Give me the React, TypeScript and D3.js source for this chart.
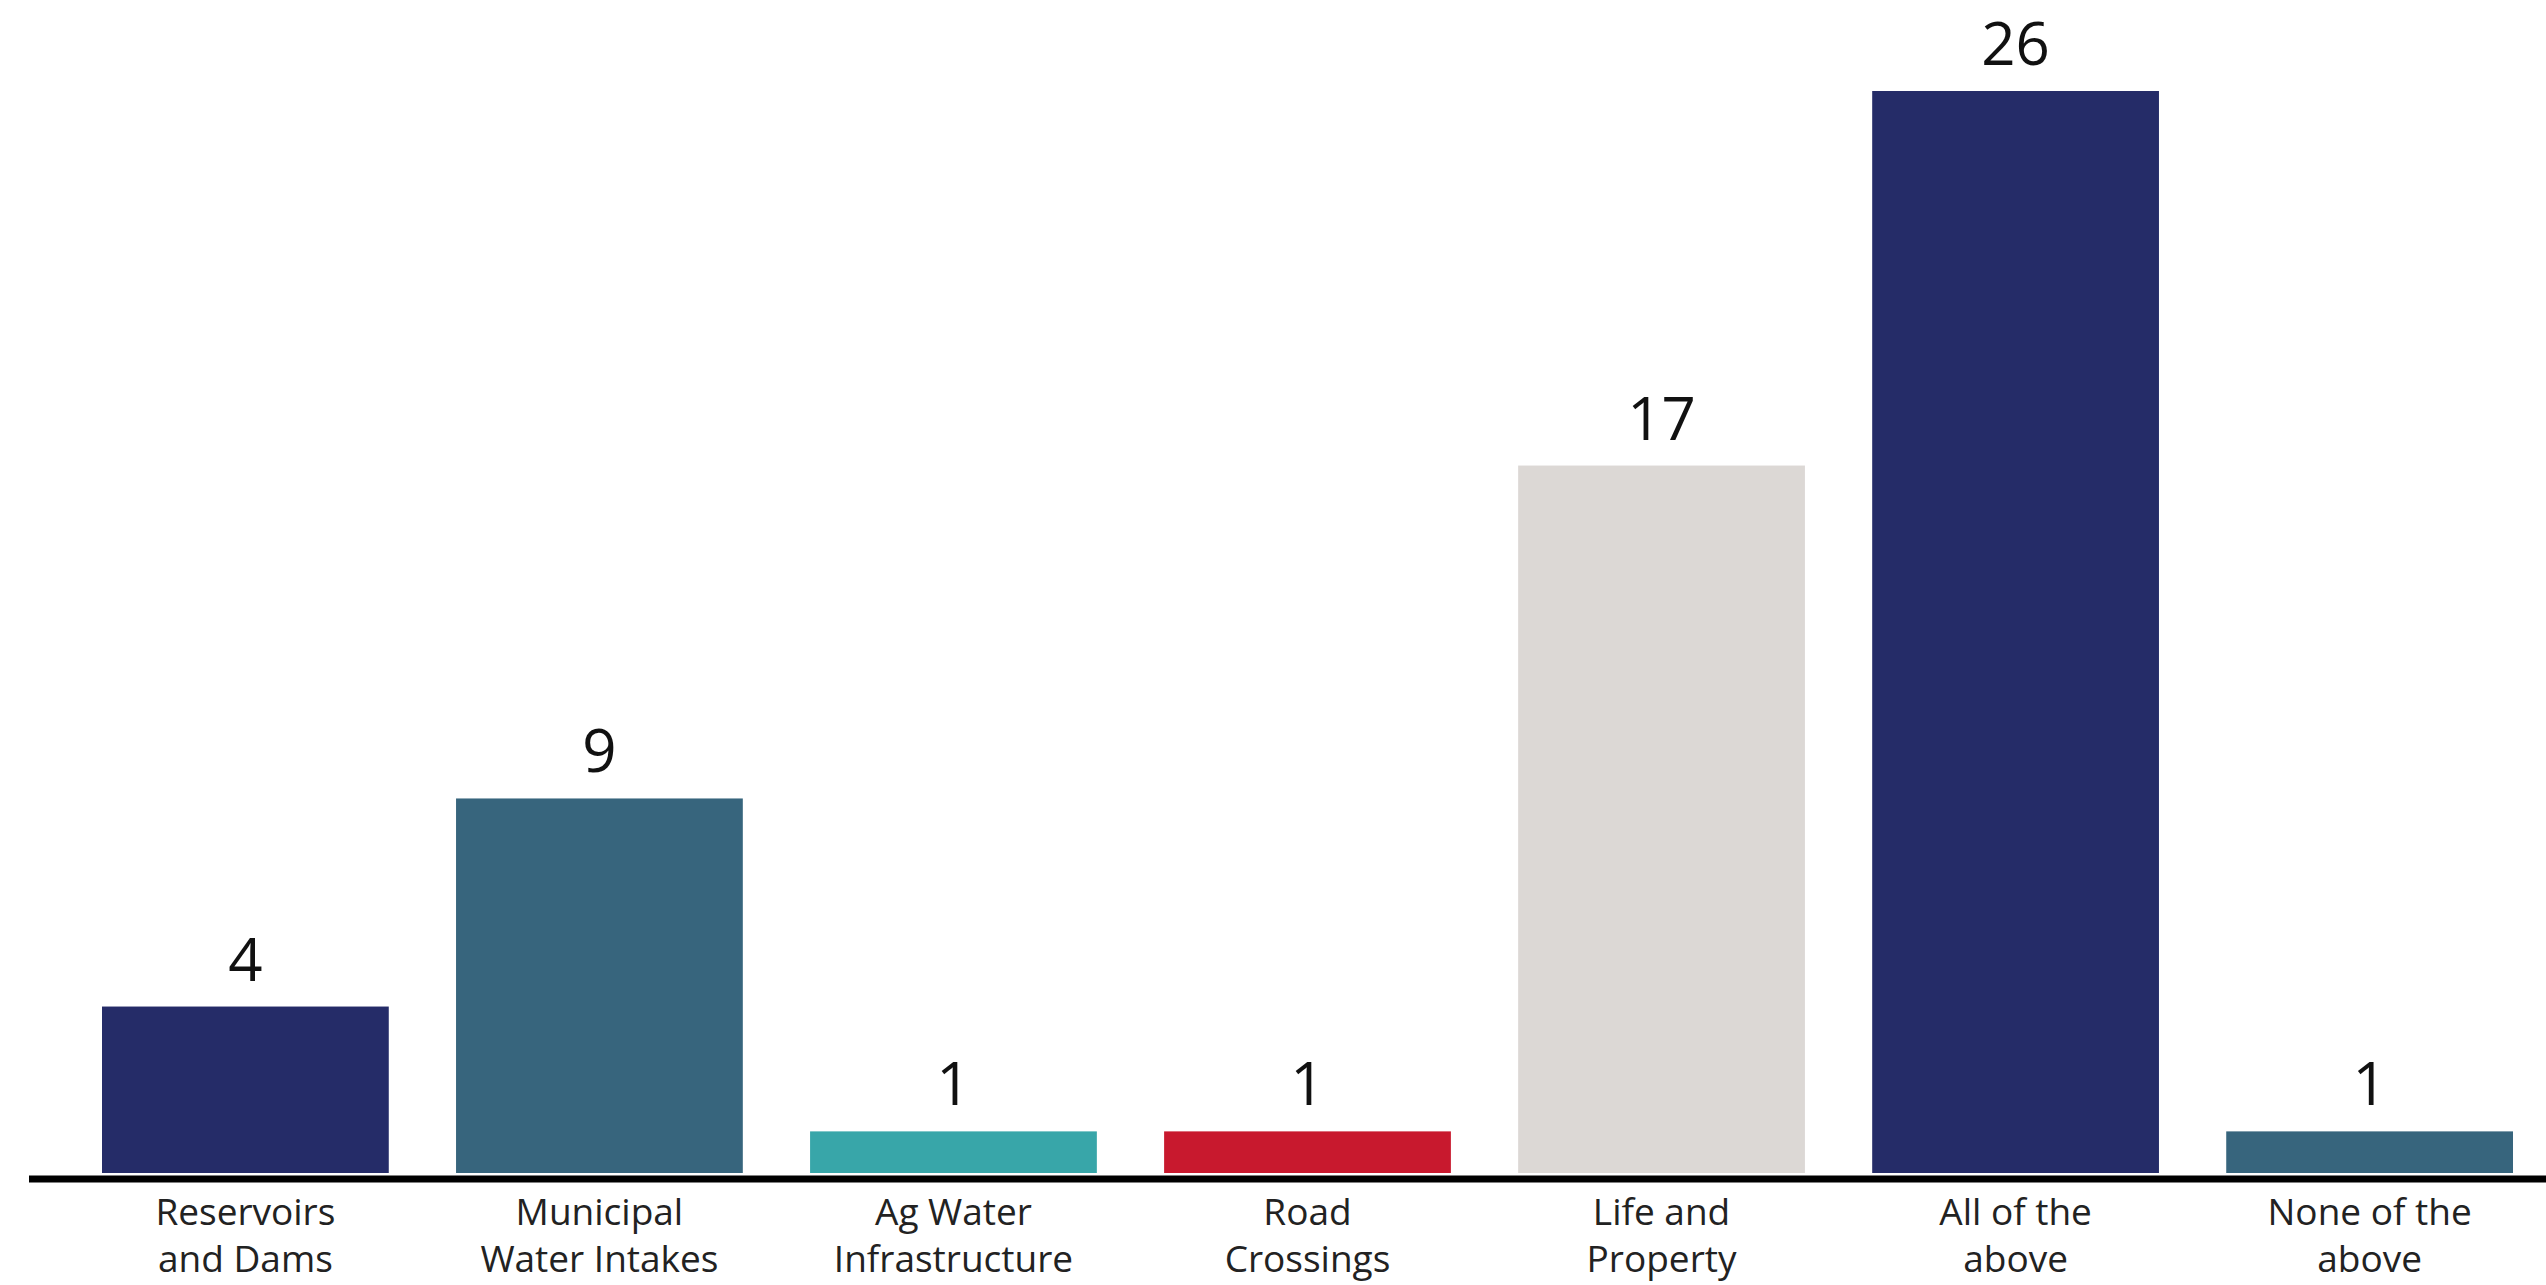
import React from "react";
import * as d3 from "d3";

// Categories (two-line labels), counts and bar colours
const categoryLine1 = ["Reservoirs", "Municipal", "Ag Water", "Road", "Life and", "All of the", "None of the"];
const categoryLine2 = ["and Dams", "Water Intakes", "Infrastructure", "Crossings", "Property", "above", "above"];
const counts = [4, 9, 1, 1, 17, 26, 1];
const barColors = ["#252c68", "#37657d", "#38a6a9", "#c8192e", "#dcd8d5", "#252c68", "#37657d"];

const WIDTH = 2546;
const HEIGHT = 1285;

export default function App() {
  const ids = counts.map((_, i) => String(i));
  const x = d3.scaleBand<string>().domain(ids).range([102, 2513]).paddingInner(0.19).paddingOuter(0);
  const y = d3.scaleLinear().domain([0, 26]).range([1173, 91]);
  const font = "'Open Sans', 'Noto Sans', sans-serif";

  return (
    <svg
      width={WIDTH}
      height={HEIGHT}
      style={{ position: "absolute", left: 0, top: 0, background: "#ffffff" }}
      fontFamily={font}
    >
      {counts.map((v, i) => {
        const x0 = x(String(i)) as number;
        const bw = x.bandwidth();
        const cx = x0 + bw / 2;
        return (
          <g key={i}>
            <rect x={x0} y={y(v)} width={bw} height={y(0) - y(v)} fill={barColors[i]} />
            <text x={cx} y={y(v) - 26} textAnchor="middle" fontSize={60} fill="#111">
              {v}
            </text>
            <text x={cx} y={1225} textAnchor="middle" fontSize={37} fill="#222">
              {categoryLine1[i]}
            </text>
            <text x={cx} y={1272} textAnchor="middle" fontSize={37} fill="#222">
              {categoryLine2[i]}
            </text>
          </g>
        );
      })}
      <line x1={29} x2={WIDTH} y1={1179} y2={1179} stroke="#000" strokeWidth={7} />
    </svg>
  );
}
